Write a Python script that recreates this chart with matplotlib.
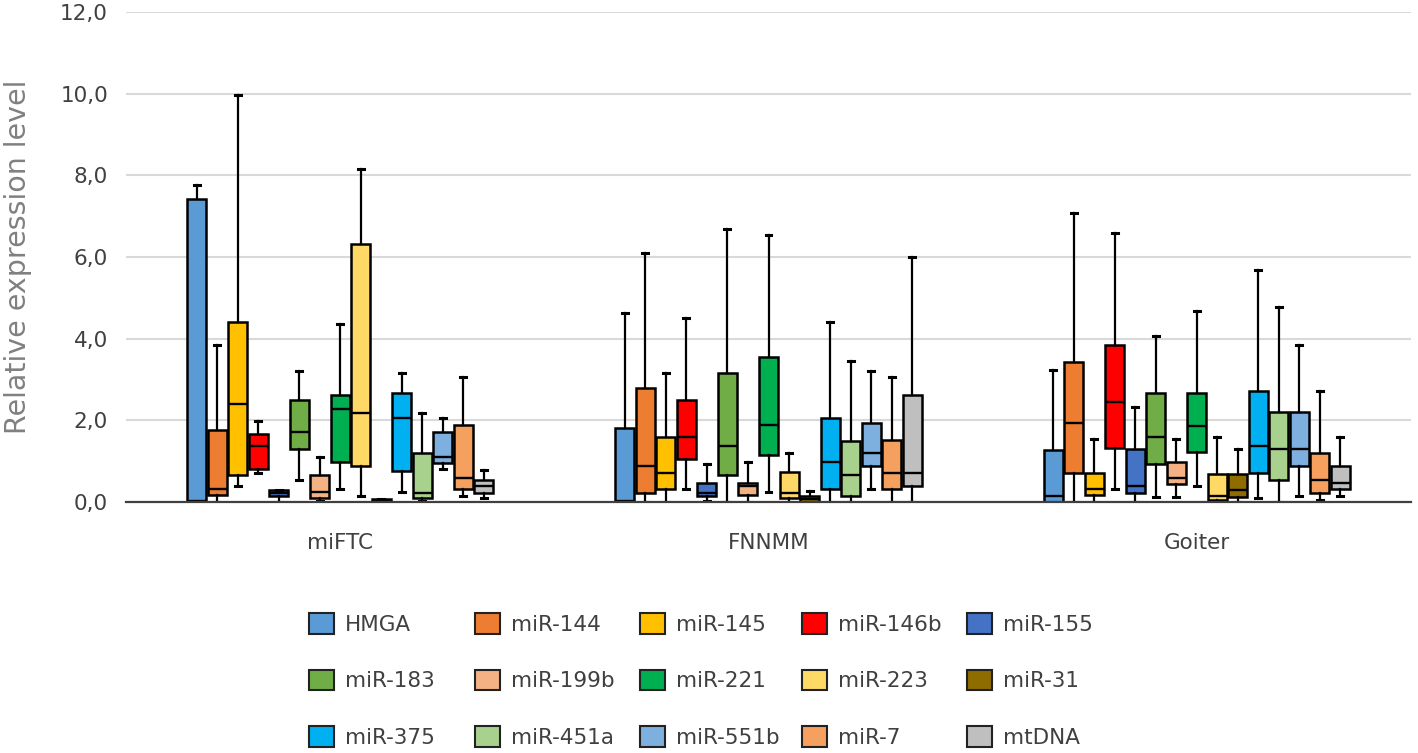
import matplotlib
matplotlib.use("Agg")
import matplotlib.pyplot as plt
from matplotlib.patches import Patch
from matplotlib.ticker import FuncFormatter

# ---------------- data ----------------
groups = ["miFTC", "FNNMM", "Goiter"]
series = ["HMGA", "miR-144", "miR-145", "miR-146b", "miR-155",
          "miR-183", "miR-199b", "miR-221", "miR-223", "miR-31",
          "miR-375", "miR-451a", "miR-551b", "miR-7", "mtDNA"]
colors = ["#5B9BD5", "#ED7D31", "#FFC000", "#FF0000", "#4472C4",
          "#70AD47", "#F4B183", "#00B050", "#FFD966", "#8F6C00",
          "#00B0F0", "#A9D18E", "#7DAFDF", "#F5A05F", "#BFBFBF"]

# per group (miFTC, FNNMM, Goiter), values in series order
whisker_low = [
    [0.00, 0.00, 0.38, 0.70, 0.00, 0.54, 0.03, 0.31, 0.15, 0.00, 0.25, 0.03, 0.82, 0.15, 0.09],
    [0.00, 0.00, 0.00, 0.31, 0.02, 0.00, 0.00, 0.25, 0.00, 0.00, 0.00, 0.00, 0.33, 0.00, 0.00],
    [0.00, 0.00, 0.00, 0.31, 0.00, 0.13, 0.13, 0.38, 0.00, 0.00, 0.10, 0.00, 0.15, 0.05, 0.15],
]
q1 = [
    [0.00, 0.17, 0.65, 0.82, 0.15, 1.31, 0.11, 0.99, 0.87, 0.00, 0.77, 0.11, 0.95, 0.33, 0.21],
    [0.00, 0.21, 0.31, 1.05, 0.15, 0.65, 0.17, 1.15, 0.11, 0.01, 0.33, 0.15, 0.88, 0.33, 0.39],
    [0.00, 0.72, 0.17, 1.33, 0.21, 0.93, 0.44, 1.22, 0.05, 0.13, 0.72, 0.55, 0.89, 0.21, 0.32],
]
medians = [
    [0.02, 0.31, 2.39, 1.38, 0.22, 1.72, 0.25, 2.28, 2.17, 0.03, 2.05, 0.21, 1.09, 0.60, 0.38],
    [0.02, 0.87, 0.72, 1.60, 0.21, 1.38, 0.38, 1.89, 0.21, 0.08, 0.97, 0.65, 1.19, 0.70, 0.70],
    [0.15, 1.94, 0.33, 2.44, 0.39, 1.60, 0.60, 1.87, 0.15, 0.29, 1.38, 1.31, 1.31, 0.54, 0.47],
]
q3 = [
    [7.41, 1.76, 4.40, 1.66, 0.30, 2.50, 0.65, 2.62, 6.31, 0.08, 2.66, 1.19, 1.71, 1.89, 0.55],
    [1.82, 2.78, 1.58, 2.50, 0.47, 3.17, 0.47, 3.56, 0.74, 0.15, 2.05, 1.49, 1.93, 1.53, 2.62],
    [1.27, 3.44, 0.70, 3.85, 1.31, 2.66, 0.97, 2.66, 0.69, 0.69, 2.72, 2.20, 2.21, 1.19, 0.87],
]
whisker_high = [
    [7.76, 3.85, 9.97, 1.99, 0.30, 3.22, 1.09, 4.35, 8.15, 0.08, 3.17, 2.17, 2.05, 3.07, 0.78],
    [4.62, 6.09, 3.17, 4.51, 0.93, 6.69, 0.99, 6.54, 1.21, 0.27, 4.40, 3.45, 3.22, 3.07, 6.01],
    [3.23, 7.07, 1.54, 6.58, 2.33, 4.07, 1.54, 4.68, 1.60, 1.31, 5.68, 4.78, 3.85, 2.72, 1.60],
]
yticks = [0, 2, 4, 6, 8, 10, 12]

# ---------------- figure ----------------
plt.rcParams['font.family'] = ['DejaVu Sans']
W, H, DPI = 1418, 753, 100
fig = plt.figure(figsize=(W / DPI, H / DPI), dpi=DPI)
ax = fig.add_axes([126 / W, (H - 502) / H, 1285 / W, 490 / H])

n = len(series)
pitch = 0.0479
bw = 0.0444
for g in range(len(groups)):
    for i in range(n):
        st = dict(whislo=whisker_low[g][i], q1=q1[g][i], med=medians[g][i],
                  q3=q3[g][i], whishi=whisker_high[g][i], fliers=[])
        pos = g + (i - (n - 1) / 2) * pitch
        ax.bxp([st], positions=[pos], widths=bw, capwidths=0.014,
               patch_artist=True, showfliers=False,
               boxprops=dict(facecolor=colors[i], edgecolor="black", linewidth=1.8),
               medianprops=dict(color="black", linewidth=1.7),
               whiskerprops=dict(color="black", linewidth=1.6),
               capprops=dict(color="black", linewidth=2.2),
               manage_ticks=False, zorder=3)

ax.set_xlim(-0.5, 2.5)
ax.set_ylim(0, 12)
ax.set_yticks(yticks)
ax.yaxis.set_major_formatter(FuncFormatter(lambda v, p: f"{v:.1f}".replace(".", ",")))
ax.set_xticks(range(len(groups)))
ax.set_xticklabels(groups)
ax.tick_params(axis="both", length=0, labelsize=15.5, labelcolor="#404040")
ax.tick_params(axis="y", pad=13)
ax.tick_params(axis="x", pad=22)
ax.grid(axis="y", color="#D9D9D9", linewidth=1.5, zorder=0)
ax.set_axisbelow(True)
for s in ["top", "right", "left"]:
    ax.spines[s].set_visible(False)
ax.spines["bottom"].set_color("#404040")
ax.spines["bottom"].set_linewidth(1.6)
ax.spines["bottom"].set_zorder(4)

ax.set_ylabel("Relative expression level", fontsize=20.5, color="#808080")
ax.yaxis.set_label_coords(-0.0732, 0.5)

# ---------------- legend (5 columns, 3 rows) ----------------
handles = [Patch(facecolor=c, edgecolor="#222222", linewidth=1.5) for c in colors]
col_x = [309, 475, 640, 802, 967]
for c in range(5):
    idx = [r * 5 + c for r in range(3)]
    leg = fig.legend([handles[k] for k in idx], [series[k] for k in idx],
                     loc="upper left", bbox_to_anchor=(col_x[c] / W, (H - 613) / H),
                     frameon=False, fontsize=15.5, labelcolor="#404040",
                     handlelength=1.16, handleheight=1.1, handletextpad=0.5,
                     labelspacing=1.62, borderpad=0, borderaxespad=0)

fig.savefig("out.png", dpi=DPI)
